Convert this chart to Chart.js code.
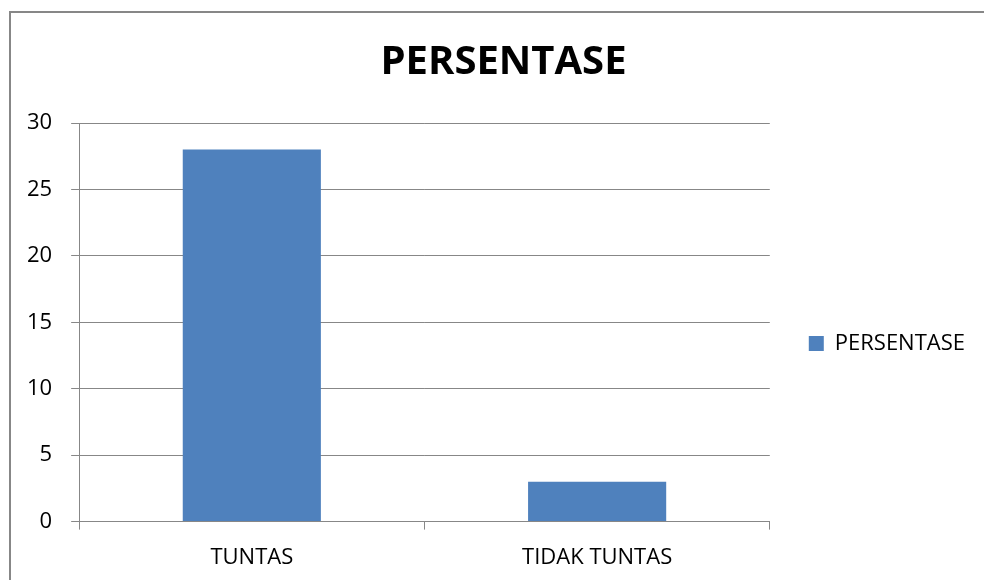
<!DOCTYPE html>
<html>
<head>
<meta charset="utf-8">
<script src="https://cdn.jsdelivr.net/npm/chart.js@4.4.0/dist/chart.umd.min.js"></script>
<style>
  html, body { margin: 0; padding: 0; background: #fff; overflow: hidden; }
  .frame {
    position: absolute; left: 9px; top: 11px; width: 1200px; height: 800px;
    border-left: 2px solid #878787; border-top: 2px solid #878787;
  }
  .wrap { position: absolute; left: 0; top: 0; width: 1008px; height: 586px; }
</style>
</head>
<body>
<div class="frame"></div>
<div class="wrap"><canvas id="myChart" width="1008" height="586"></canvas></div>
<script>
const canvasChart = document.getElementById("myChart");

const categories = ["TUNTAS", "TIDAK TUNTAS"];
const persentase = [28, 3];
const seriesName = "PERSENTASE";
const yTicks = [0, 5, 10, 15, 20, 25, 30];

const gridColor = "#878787";
const fontFamily = "'Open Sans', 'Noto Sans', sans-serif";

// nudge title and legend to where the original puts them
const placeBoxes = {
  id: "placeBoxes",
  afterLayout(chart) {
    if (chart.titleBlock) {
      chart.titleBlock.left += 12;
      chart.titleBlock.right += 12;
    }
    if (chart.legend && chart.titleBlock) {
      chart.legend.top = chart.titleBlock.bottom - 22;
    }
  },
};

let myChart = new Chart(canvasChart, {
  type: "bar",
  data: {
    labels: categories,
    datasets: [
      {
        label: seriesName,
        data: persentase,
        backgroundColor: "#4F81BD",
        borderWidth: 0,
        barPercentage: 0.4,
        categoryPercentage: 1,
      },
    ],
  },
  options: {
    responsive: false,
    animation: false,
    layout: { padding: { left: 8, right: 33, top: 0, bottom: 0 } },
    plugins: {
      title: {
        display: true,
        text: seriesName,
        color: "#000",
        font: { family: fontFamily, size: 40, weight: "bold" },
        padding: { top: 39, bottom: 36 },
      },
      legend: {
        position: "right",
        labels: {
          color: "#000",
          boxWidth: 15,
          boxHeight: 15,
          padding: 39,
          font: { family: fontFamily, size: 22 },
        },
      },
      tooltip: { enabled: false },
    },
    scales: {
      x: {
        grid: {
          offset: true,
          drawOnChartArea: false,
          drawTicks: true,
          tickLength: 8,
          color: gridColor,
        },
        border: { color: gridColor, width: 1 },
        ticks: {
          color: "#000",
          padding: 15,
          maxRotation: 0,
          font: { family: fontFamily, size: 22 },
        },
      },
      y: {
        min: 0,
        max: 30,
        afterBuildTicks: (axis) => {
          axis.ticks = yTicks.map((v) => ({ value: v }));
        },
        grid: { color: gridColor, tickLength: 8 },
        border: { color: gridColor, width: 1 },
        ticks: {
          color: "#000",
          padding: 19,
          font: { family: fontFamily, size: 22 },
        },
      },
    },
  },
  plugins: [placeBoxes],
});
</script>
</body>
</html>
